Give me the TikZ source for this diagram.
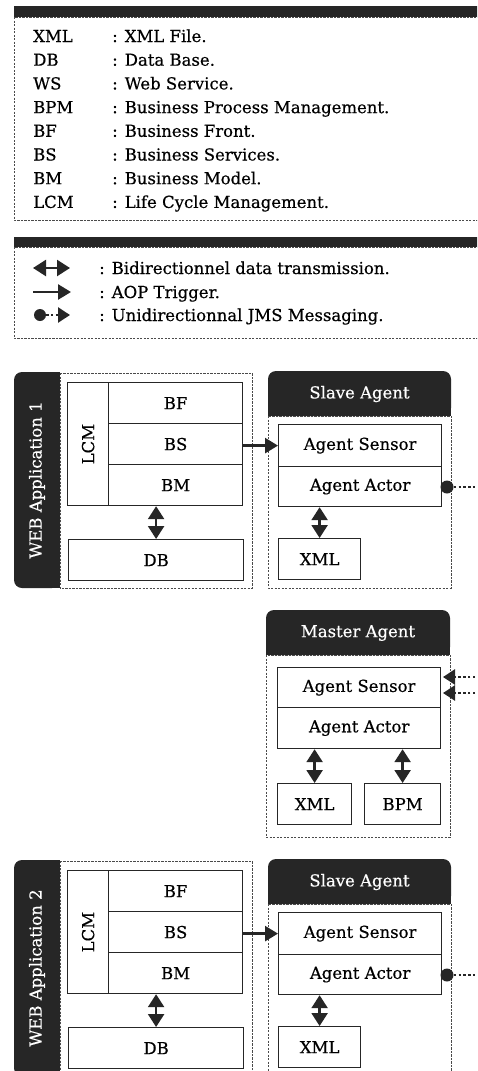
\documentclass[tikz,border=0pt]{standalone}
\usepackage{fontspec}
\setmainfont{DejaVu Serif}[FakeBold=0.5]
\usetikzlibrary{arrows.meta}
\definecolor{dk}{HTML}{262626}
\definecolor{dashc}{HTML}{4A4A4A}
\tikzset{
  every node/.style={font=\fontsize{16.5}{20}\selectfont, text=black},
  blk/.style={draw=dk, line width=1.2pt, inner sep=0pt, anchor=north west},
  dsh/.style={draw=dashc, line width=0.8pt, dash pattern=on 2.2pt off 1.3pt},
  hdr/.style={fill=dk, rounded corners=8pt},
  hdrtext/.style={text=white},
  aop/.style={draw=dk, line width=2.6pt, -{Triangle[width=15pt,length=13pt]}},
  bidir/.style={draw=dk, line width=2.4pt, {Triangle[width=16pt,length=13pt]}-{Triangle[width=16pt,length=13pt]}},
  jms/.style={draw=dk, line width=2.6pt, dash pattern=on 2.4pt off 2.4pt},
  jmsin/.style={jms, -{Triangle[width=15pt,length=12pt]}},
  jdot/.style={circle, fill=dk, inner sep=0pt, minimum size=13pt},
  key/.style={anchor=base west, inner sep=0pt},
}
\begin{document}
\begin{tikzpicture}[x=1pt, y=-1pt]
\clip (0,0) rectangle (477,1071);
\fill[white] (0,0) rectangle (477,1071);

% ---------- legend 1 ----------
\fill[dk] (14,6) rectangle (485,17);
\draw[dsh] (14,17) rectangle (490,220);
\foreach \k/\t [count=\n from 0] in {XML/{XML File.}, DB/{Data Base.}, WS/{Web Service.},
   BPM/{Business Process Management.}, BF/{Business Front.}, BS/{Business Services.},
   BM/{Business Model.}, LCM/{Life Cycle Management.}} {
  \node[key] (lk\n) at (33,42+23.7*\n) {\k};
  \node[key] (lt\n) at (112,42+23.7*\n) {: \t};
}

% ---------- legend 2 ----------
\fill[dk] (14,237) rectangle (485,247);
\draw[dsh] (14,247) rectangle (490,338);
\coordinate (b1) at (33,268);
\coordinate (b2) at (70,268);
\draw[bidir] (b1) -- (b2);
\node[key] (l2a) at (99,274) {: Bidirectionnel data transmission.};
\coordinate (a1) at (33,292);
\coordinate (a2) at (71,292);
\draw[aop] (a1) -- (a2);
\node[key] (l2b) at (99,298) {: AOP Trigger.};
\node[jdot, minimum size=12pt] (jd) at (40,315) {};
\coordinate (je) at (70,315);
\draw[jmsin] (jd) -- (je);
\node[key] (l2c) at (99,321) {: Unidirectionnal JMS Messaging.};

% ---------- web applications + slave agents ----------
\foreach \i/\dy in {1/0, 2/488} {
\begin{scope}[shift={(0,\dy)}]
  % web application panel
  \fill[hdr] (14,372) rectangle (60,588);
  \fill[dk] (40,372) rectangle (60,588);
  \node[hdrtext, rotate=90] (wa\i) at (37,480) {WEB Application \i};
  \draw[dsh] (60,373) rectangle (252,588);
  \node[blk, minimum width=41pt, minimum height=123pt] (lcm\i) at (67,382) {};
  \node[rotate=90] (lcmt\i) at (lcm\i.center) {LCM};
  \node[blk, minimum width=134pt, minimum height=41pt] (bf\i) at (108,382) {BF};
  \node[blk, minimum width=134pt, minimum height=41pt] (bs\i) at (108,423) {BS};
  \node[blk, minimum width=134pt, minimum height=41pt] (bm\i) at (108,464) {BM};
  \node[blk, minimum width=175pt, minimum height=41pt] (db\i) at (68,539) {DB};
  \draw[bidir] (db\i.north) -- (db\i.north |- bm\i.south);
  % slave agent
  \fill[hdr] (268,371) rectangle (451,416);
  \fill[dk] (268,400) rectangle (451,416);
  \node[hdrtext] (sh\i) at (359.5,394) {Slave Agent};
  \draw[dsh] (268,416) rectangle (451,588);
  \node[blk, minimum width=163pt, minimum height=42pt] (ss\i) at (278,424) {Agent Sensor};
  \node[blk, minimum width=163pt, minimum height=40pt] (sa\i) at (278,466) {Agent Actor};
  \node[blk, minimum width=82pt, minimum height=41pt] (sx\i) at (278,538) {XML};
  \draw[bidir] (sx\i.north) -- (sx\i.north |- sa\i.south);
  \draw[aop] (bs\i.east |- ss\i.west) -- (ss\i.west);
  \node[jdot] (dot\i) at (447,487) {};
  \coordinate (e\i) at (480,487);
  \draw[jms] (dot\i) -- (e\i);
\end{scope}
}

% ---------- master agent ----------
\fill[hdr] (266,610) rectangle (450,655);
\fill[dk] (266,640) rectangle (450,655);
\node[hdrtext] (mh) at (358,633) {Master Agent};
\draw[dsh] (266,655) rectangle (450,837);
\node[blk, minimum width=163pt, minimum height=40pt] (ms) at (277,667) {Agent Sensor};
\node[blk, minimum width=163pt, minimum height=41pt] (ma) at (277,707) {Agent Actor};
\node[blk, minimum width=74pt, minimum height=41pt] (mx) at (277,783) {XML};
\node[blk, minimum width=76pt, minimum height=41pt] (mb) at (364,783) {BPM};
\draw[bidir] (mx.north) -- (mx.north |- ma.south);
\draw[bidir] (mb.north) -- (mb.north |- ma.south);
\coordinate (i1) at (480,677);
\coordinate (i2) at (480,693);
\coordinate (t1) at (443,677);
\coordinate (t2) at (443,693);
\draw[jmsin] (i1) -- (t1);
\draw[jmsin] (i2) -- (t2);
\end{tikzpicture}
\end{document}
